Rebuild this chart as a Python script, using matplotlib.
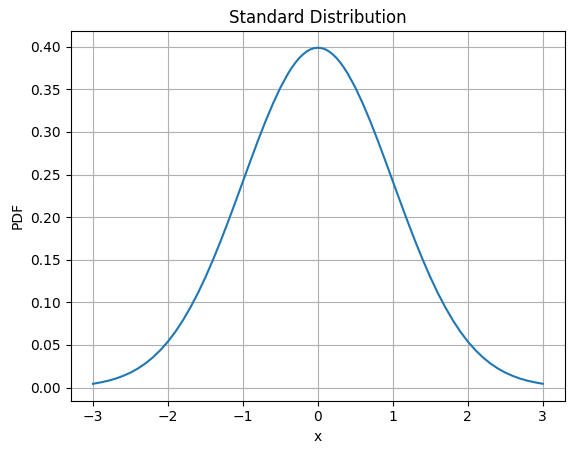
import matplotlib.pyplot as plt

# =====================================================
# DATA
# =====================================================

x_values = [
    -3.0, -2.9, -2.8, -2.7, -2.6, -2.5, -2.4, -2.3, -2.2, -2.1,
    -2.0, -1.9, -1.8, -1.7, -1.6, -1.5, -1.4, -1.3, -1.2, -1.1,
    -1.0, -0.9, -0.8, -0.7, -0.6, -0.5, -0.4, -0.35, -0.3, -0.25,
    -0.2, -0.15, -0.1, -0.05,
    0.0,
    0.05, 0.1, 0.15, 0.2,
    0.25, 0.3, 0.35, 0.4, 0.5, 0.6, 0.7, 0.8, 0.9, 1.0,
    1.1, 1.2, 1.3, 1.4, 1.5, 1.6, 1.7, 1.8, 1.9, 2.0,
    2.1, 2.2, 2.3, 2.4, 2.5, 2.6, 2.7, 2.8, 2.9, 3.0,
]

pdf_values = [
    0.0044, 0.0060, 0.0079, 0.0104, 0.0136, 0.0175, 0.0224, 0.0283, 0.0355, 0.0440,
    0.0540, 0.0656, 0.0790, 0.0941, 0.1109, 0.1295, 0.1497, 0.1714, 0.1942, 0.2179,
    0.2420, 0.2661, 0.2897, 0.3123, 0.3332, 0.3521, 0.3683, 0.3752, 0.3814, 0.3867,
    0.3910, 0.3945, 0.3970, 0.3984,
    0.3989,
    0.3984, 0.3970, 0.3945, 0.3910,
    0.3867, 0.3814, 0.3752, 0.3683, 0.3521, 0.3332, 0.3123, 0.2897, 0.2661, 0.2420,
    0.2179, 0.1942, 0.1714, 0.1497, 0.1295, 0.1109, 0.0941, 0.0790, 0.0656, 0.0540,
    0.0440, 0.0355, 0.0283, 0.0224, 0.0175, 0.0136, 0.0104, 0.0079, 0.0060, 0.0044,
]

# =====================================================
# PLOT
# =====================================================

fig = plt.figure(figsize=(5.76, 4.53), dpi=100)
ax = fig.add_axes([0.1224, 0.1157, 0.859, 0.816])

ax.plot(x_values, pdf_values, color="#1f77b4")

ax.set_title("Standard Distribution")
ax.set_xlabel("x")
ax.set_ylabel("PDF")
ax.grid(True)

fig.savefig("out.png", dpi=100)
